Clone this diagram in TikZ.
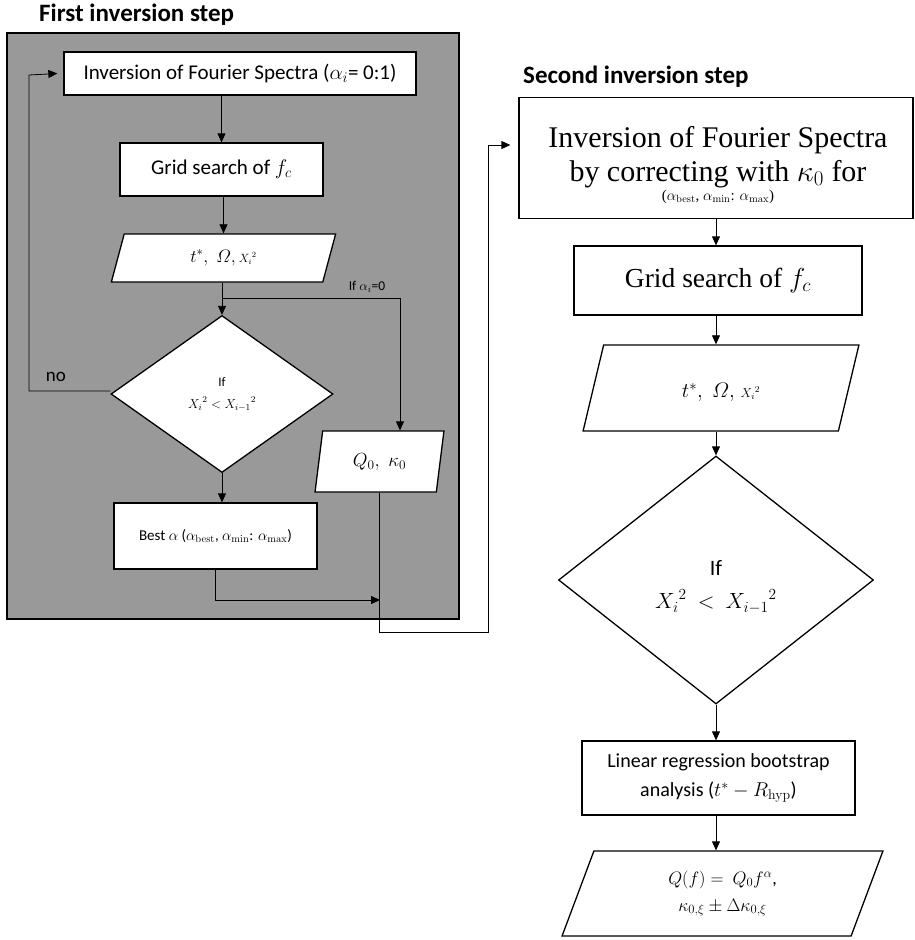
\RequirePackage{fix-cm}
\documentclass[tikz,border=0pt]{standalone}
\usepackage{amsmath}
\usepackage[no-math]{fontspec}
\setmainfont{Carlito}
\newfontfamily\tnr{Liberation Serif}
\usetikzlibrary{shapes.geometric,arrows.meta,calc}
\definecolor{boxgray}{RGB}{153,153,153}
\newcommand{\fsz}[2]{\fontsize{#1pt}{#2pt}\selectfont}
\tikzset{
  box/.style={draw, line width=1.3pt, fill=white, inner sep=0pt, align=center},
  para/.style={trapezium, draw, fill=white, line width=1.3pt, trapezium stretches=true, inner sep=0pt, align=center},
  dia/.style={diamond, draw, fill=white, line width=1.3pt, inner sep=0pt, align=center},
  arr/.style={-{Triangle[length=9pt,width=8pt]}, line width=0.8pt},
  lbl/.style={inner sep=0pt},
  txt/.style={inner sep=0pt, align=center},
  ttl/.style={inner sep=0pt, anchor=west, font=\bfseries\fsz{25}{30}}
}
\begin{document}
\begin{tikzpicture}[x=1pt,y=-1pt]
\useasboundingbox (0,0) rectangle (914,940);
% frame
\node[draw, fill=boxgray, line width=2pt, minimum width=452pt, minimum height=586pt, inner sep=0pt] (frame) at (233,326) {};
\node[ttl] (t1) at (39,15) {First inversion step};
\node[ttl] (t2) at (523,77) {Second inversion step};

% first step
\node[box, minimum width=352pt, minimum height=43pt, font=\fsz{21}{25}] (b1) at (240,73.5) {Inversion of Fourier Spectra ($\alpha_i$= 0:1)};
\node[box, minimum width=203pt, minimum height=53pt, font=\fsz{21}{25}] (b2) at (221.5,169.5) {Grid search of $f_c$};
\node[para, trapezium left angle=74.85, trapezium right angle=105.15, minimum width=225pt, minimum height=48pt, font=\fsz{18}{20}] (p1) at (223.5,258) {$t^{*},\; \varOmega,\,${\fsz{12}{14}${X_i}^{2}$}};
\node[dia, minimum width=222pt, minimum height=157pt, font=\fsz{13}{22}] (d1) at (222,394) {If\\${X_i}^{2} < {X_{i-1}}^{2}$};
\node[box, minimum width=203pt, minimum height=66pt, font=\fsz{15}{18}] (b3) at (215.5,536) {Best $\alpha$ ($\alpha_{\mathrm{best}}$, $\alpha_{\mathrm{min}}$: $\alpha_{\mathrm{max}}$)};
\node[para, trapezium left angle=77.97, trapezium right angle=102.03, minimum width=129pt, minimum height=61pt, font=\fsz{19}{23}] (q0) at (379.5,461.5) {$Q_0,\; \kappa_0$};

\node[lbl, font=\fsz{13.5}{16}] (lif) at (367,287) {If $\alpha_i$=0};
\node[lbl, font=\fsz{19}{22}] (lno) at (56,377) {no};

% second step
\node[box, minimum width=394pt, minimum height=121pt] (b4) at (716,158) {\strut};
\node[txt, font=\tnr\fsz{30}{34}] (b4t) at (718,165) {Inversion of Fourier Spectra\\by correcting with $\kappa_0$ for\\[-15pt]\fsz{15}{17}($\alpha_{\mathrm{best}}$, $\alpha_{\mathrm{min}}$: $\alpha_{\mathrm{max}}$)};
\node[box, minimum width=288pt, minimum height=69pt, font=\tnr\fsz{27.5}{32}] (b5) at (718,280.5) {Grid search of $f_c$};
\node[para, trapezium left angle=76.3, trapezium right angle=103.7, minimum width=278pt, minimum height=86pt, font=\fsz{21}{24}] (p3) at (721,388) {\rule{0pt}{24pt}$t^{*},\; \varOmega,\;${\fsz{13}{15}${X_i}^{2}$}};
\node[dia, minimum width=315pt, minimum height=248pt] (d2) at (716,580) {\strut};
\node[txt, font=\fsz{22}{33}] (d2t) at (716,587) {If\\${X_i}^{2}\ <\ {X_{i-1}}^{2}$};
\node[box, minimum width=273pt, minimum height=74pt, font=\fsz{20}{29}] (b6) at (718.5,778) {Linear regression bootstrap\\analysis ($t^* - R_{\mathrm{hyp}}$)};
\node[para, trapezium left angle=73.6, trapezium right angle=106.4, minimum width=321pt, minimum height=85pt, font=\fsz{18}{27}] (p4) at (722.5,893.5) {$Q(f) =\ Q_0 f^{\alpha}$,\\$\kappa_{0,\xi} \pm \Delta\kappa_{0,\xi}$};

% connectors first step
\draw[arr] (b1.south -| b2.north) -- (b2.north);
\draw[arr] (b2.south -| p1.north) -- (p1.north);
\draw[arr] (p1.south -| d1.north) -- (d1.north);
\coordinate (brk) at ($(p1.south -| d1.north)!0.5!(d1.north)$);
\draw[arr] (brk) -| ([xshift=20.5pt]q0.north);
\coordinate (c0) at (29,75);
\draw[arr] ([yshift=3pt]d1.west) -| (c0) -- ([xshift=-6pt]b1.west);
\draw[arr] (d1.south) -- (d1.south |- b3.north);
\coordinate (mrg) at (380,600);
\draw[arr] (b3.south) |- (mrg);
\coordinate (c1) at (488,632);
\draw[arr] (q0.south) |- (c1) |- ([xshift=-8pt,yshift=13pt]b4.west);

% connectors second step
\draw[arr] (b4.south) -- (b4.south |- b5.north);
\draw[arr] (b5.south -| b4.south) -- (b4.south |- p3.north);
\draw[arr] (p3.south -| b4.south) -- (b4.south |- d2.north);
\draw[arr] (d2.south) -- (d2.south |- b6.north);
\draw[arr] (b6.south -| d2.south) -- (d2.south |- p4.north);
\end{tikzpicture}
\end{document}
